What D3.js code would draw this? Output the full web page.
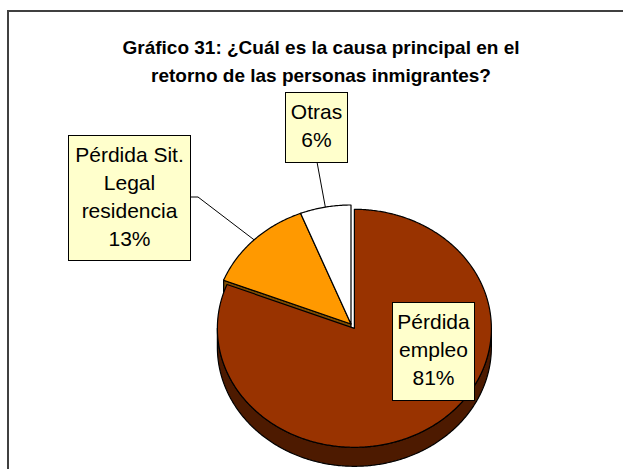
<!DOCTYPE html>
<html>
<head>
<meta charset="utf-8">
<script src="https://cdn.jsdelivr.net/npm/d3@7"></script>
<style>
  html, body { margin: 0; padding: 0; background: #fff; }
  svg { display: block; font-family: Arial, "Liberation Sans", sans-serif; }
</style>
</head>
<body>
<div id="chart"></div>
<script>
const categories = ["Pérdida empleo", "Pérdida Sit. Legal residencia", "Otras"];
const values = [81, 13, 6];
const nameLines = [["Pérdida", "empleo"], ["Pérdida Sit.", "Legal", "residencia"], ["Otras"]];
const titleLines = ["Gráfico 31: ¿Cuál es la causa principal en el", "retorno de las personas inmigrantes?"];

const width = 623, height = 469;
const cx = 351, cy = 324, rx = 137, ry = 119, depth = 19;
const topColors = ["#993300", "#FF9900", "#FFFFFF"];
const sideColors = ["#4d1a00", "#7f4c00", "#cccccc"];
const explode = [6, 0, 0];
// label boxes, placed by hand like the original
const boxes = [
  { x: 392, y: 302, w: 82, h: 98, leader: false },
  { x: 68, y: 135, w: 122, h: 125, leader: true, from: [[190, 197], [198, 197]] },
  { x: 285, y: 92, w: 62, h: 70, leader: true, from: [[317, 162]] },
];

const svg = d3.select("#chart").append("svg").attr("width", width).attr("height", height);

// frame (right and bottom edges fall outside the picture)
svg.append("rect").attr("x", 8).attr("y", 11).attr("width", 700).attr("height", 600)
  .attr("fill", "#fff").attr("stroke", "#404040").attr("stroke-width", 2);

const title = svg.append("text").attr("text-anchor", "middle")
  .attr("font-weight", "bold").attr("font-size", 19).attr("fill", "#000");
titleLines.forEach((t, i) => title.append("tspan").attr("x", 321).attr("y", 54 + i * 28).text(t));

const pie = d3.pie().sort(null).startAngle(0).endAngle(2 * Math.PI);
const arcs = pie(values);

const pt = (o, a, dy = 0) => [o[0] + rx * Math.sin(a), o[1] - ry * Math.cos(a) + dy];
const line = d3.line();

function sample(a0, a1) {
  const n = Math.max(2, Math.ceil((a1 - a0) / 0.01));
  return d3.range(n + 1).map(i => a0 + (a1 - a0) * i / n);
}

const slices = arcs.map((d, i) => {
  const mid = (d.startAngle + d.endAngle) / 2;
  const o = [cx + explode[i] * Math.sin(mid), cy - explode[i] * Math.cos(mid) * ry / rx];
  return { ...d, i, mid, o };
});

const gSide = svg.append("g");
const gCut = svg.append("g");
const gTop = svg.append("g");

slices.forEach(s => {
  // outer rim side, only the front half is seen
  const a0 = Math.max(s.startAngle, Math.PI / 2);
  const a1 = Math.min(s.endAngle, 3 * Math.PI / 2);
  if (a1 > a0) {
    const angs = sample(a0, a1);
    const pts = angs.map(a => pt(s.o, a)).concat(angs.slice().reverse().map(a => pt(s.o, a, depth)));
    gSide.append("path").attr("d", line(pts) + "Z")
      .attr("fill", sideColors[s.i]).attr("stroke", "#000").attr("stroke-width", 1.2).attr("stroke-linejoin", "round");
  }
  // cut face at the start edge, seen where the neighbour pulled away
  if (s.i > 0 && explode[s.i - 1] > 0 && s.startAngle > Math.PI) {
    const p = pt(s.o, s.startAngle);
    const pts = [s.o, p, [p[0], p[1] + depth], [s.o[0], s.o[1] + depth]];
    gCut.append("path").attr("d", line(pts) + "Z")
      .attr("fill", sideColors[s.i]).attr("stroke", "#000").attr("stroke-width", 1.2);
  }
  const pts = [s.o].concat(sample(s.startAngle, s.endAngle).map(a => pt(s.o, a)));
  gTop.append("path").attr("d", line(pts) + "Z")
    .attr("fill", topColors[s.i]).attr("stroke", "#000").attr("stroke-width", 1.2).attr("stroke-linejoin", "round");
});

// leader lines
slices.forEach(s => {
  const b = boxes[s.i];
  if (!b.leader) return;
  const end = pt(s.o, s.mid);
  svg.append("path").attr("d", line(b.from.concat([end])))
    .attr("fill", "none").attr("stroke", "#000").attr("stroke-width", 1);
});

// labels
slices.forEach(s => {
  const b = boxes[s.i];
  svg.append("rect").attr("x", b.x + 0.5).attr("y", b.y + 0.5).attr("width", b.w).attr("height", b.h)
    .attr("fill", "#FFFFCC").attr("stroke", "#000").attr("stroke-width", 1);
  const lines = nameLines[s.i].concat([`${values[s.i]}%`]);
  const t = svg.append("text").attr("text-anchor", "middle").attr("font-size", 21).attr("fill", "#000");
  lines.forEach((l, k) => t.append("tspan").attr("x", b.x + b.w / 2 + 0.5).attr("y", b.y + 27 + k * 28).text(l));
});
</script>
</body>
</html>
